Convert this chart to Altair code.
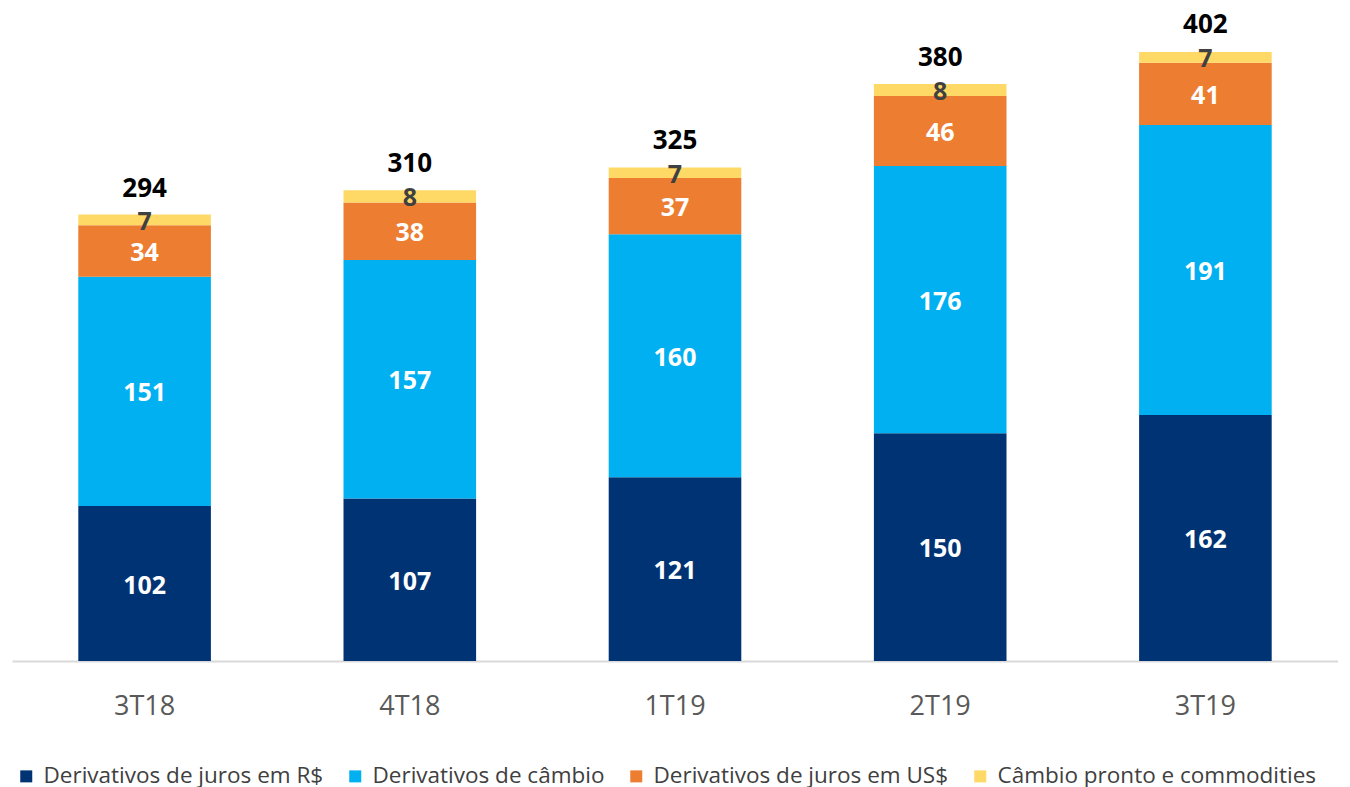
import altair as alt
import pandas as pd

quarters = ["3T18", "4T18", "1T19", "2T19", "3T19"]
series = ["Derivativos de juros em R$", "Derivativos de câmbio",
          "Derivativos de juros em US$", "Câmbio pronto e commodities"]
juros_rs = [102, 107, 121, 150, 162]
cambio = [151, 157, 160, 176, 191]
juros_us = [34, 38, 37, 46, 41]
pronto = [7, 8, 7, 8, 7]
totals = [294, 310, 325, 380, 402]
colors = ["#003373", "#00B0F0", "#ED7D31", "#FFD966"]
label_colors = ["#FFFFFF", "#FFFFFF", "#FFFFFF", "#404040"]

rows = []
for si, (name, vals) in enumerate(zip(series, [juros_rs, cambio, juros_us, pronto])):
    for q, v in zip(quarters, vals):
        rows.append({"quarter": q, "series": name, "value": v, "order": si,
                     "lc": label_colors[si]})
df = pd.DataFrame(rows)
tot_df = pd.DataFrame({"quarter": quarters, "total": totals})

FONT = "Open Sans"
x = alt.X("quarter:N", sort=quarters, title=None,
          scale=alt.Scale(paddingInner=0.5, paddingOuter=0.25),
          axis=alt.Axis(labelAngle=0, ticks=False, labelPadding=32, labelFontSize=27,
                        labelColor="#595959", labelFont=FONT, domainColor="#D9D9D9",
                        domainWidth=2, grid=False))
yscale = alt.Scale(domain=[0, 430], nice=False)

base = alt.Chart(df).transform_stack(
    stack="value", groupby=["quarter"], sort=[alt.SortField("order")], as_=["y0", "y1"]
).transform_calculate(mid="(datum.y0 + datum.y1) / 2")

bars = base.mark_bar().encode(
    x=x,
    y=alt.Y("y0:Q", scale=yscale, axis=None, title=None),
    y2="y1:Q",
    color=alt.Color("series:N", sort=series,
                    scale=alt.Scale(domain=series, range=colors),
                    legend=alt.Legend(title=None, orient="none", direction="horizontal",
                                      legendX=3, legendY=757, columns=4,
                                      symbolType="square", symbolSize=144,
                                      symbolStrokeWidth=0, labelFontSize=22.5,
                                      labelFont=FONT, labelColor="#404040",
                                      columnPadding=20, labelLimit=500, symbolOffset=0,
                                      labelOffset=6)),
)

labels = base.mark_text(fontWeight="bold", fontSize=25, font=FONT, baseline="middle", dy=2).encode(
    x=x,
    y=alt.Y("mid:Q", scale=yscale),
    text="value:Q",
    color=alt.Color("lc:N", scale=None),
)

tot = alt.Chart(tot_df).mark_text(fontWeight="bold", fontSize=26, font=FONT,
                                  baseline="middle", dy=-26, color="#000000").encode(
    x=x,
    y=alt.Y("total:Q", scale=yscale),
    text="total:Q",
)

chart = alt.layer(bars, labels, tot).properties(
    width=1326, height=653,
    padding={"left": 4, "top": 0, "right": 0, "bottom": 0},
).configure(background="white").configure_view(stroke=None)

chart.save("out.html", embed_options={"renderer": "svg", "actions": False})
